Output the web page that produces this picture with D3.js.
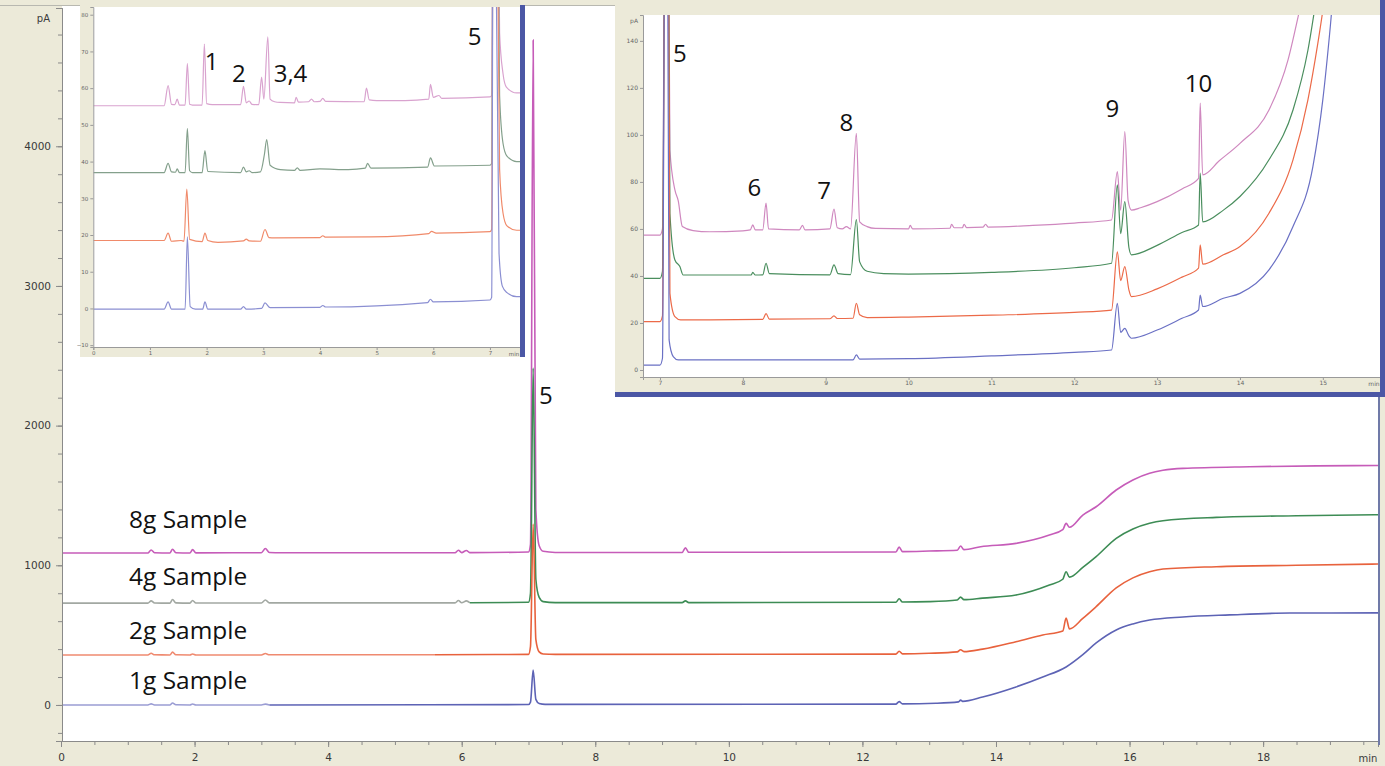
<!DOCTYPE html>
<html><head><meta charset="utf-8">
<script src="https://cdn.jsdelivr.net/npm/d3@7"></script>
<style>body{margin:0;background:#ecead9}svg{display:block}</style>
</head><body><svg id="c" width="1385" height="766"></svg>
<script>
// ---------------- DATA ----------------
const sampleNames = ["8g Sample", "4g Sample", "2g Sample", "1g Sample"];
const sampleLabelPos = [[1.02, 1267], [1.02, 857], [1.02, 472], [1.02, 115]]; // [min, pA]

const mainYTicks = [0, 1000, 2000, 3000, 4000];
const mainYTickLabels = ["0", "1000", "2000", "3000", "4000"];
const mainXTicks = [0, 2, 4, 6, 8, 10, 12, 14, 16, 18];
const mainXTickLabels = ["0", "2", "4", "6", "8", "10", "12", "14", "16", "18"];

// main chromatograms [min, pA]
const main8g = [[0,1088],[1.3,1088],[1.35,1110],[1.4,1090],[1.63,1088],[1.67,1115],[1.72,1090],[1.93,1088],[1.97,1112],[2.02,1089],[3.0,1090],[3.06,1120],[3.12,1092],[3.3,1090],[5.9,1090],[5.95,1108],[6.0,1091],[6.07,1106],[6.12,1091],[7.0,1095],[7.03,1150],[7.07,4760],[7.11,1400],[7.16,1140],[7.22,1100],[7.4,1092],[9.3,1092],[9.35,1125],[9.4,1093],[12.5,1095],[12.55,1130],[12.6,1098],[13.0,1102],[13.42,1108],[13.47,1138],[13.52,1112],[13.77,1133],[14.3,1157],[14.8,1217],[15.0,1255],[15.05,1300],[15.1,1272],[15.3,1360],[15.5,1419],[15.8,1539],[16.05,1611],[16.3,1659],[16.5,1680],[16.8,1694],[17.8,1706],[18.8,1712],[19.72,1714]];
const main4g = [[0,729],[1.3,729],[1.35,745],[1.4,730],[1.63,729],[1.67,755],[1.72,731],[1.93,729],[1.97,748],[2.02,730],[3.0,730],[3.06,752],[3.12,731],[5.9,731],[5.95,748],[6.0,732],[6.07,745],[6.12,732],[7.0,735],[7.03,800],[7.07,2412],[7.11,900],[7.16,770],[7.22,740],[7.4,733],[9.3,733],[9.35,745],[9.4,733],[12.5,735],[12.55,760],[12.6,737],[13.0,740],[13.42,752],[13.47,772],[13.52,754],[13.8,765],[14.3,787],[14.8,859],[15.0,900],[15.05,954],[15.1,915],[15.3,985],[15.5,1062],[15.8,1193],[16.05,1260],[16.3,1301],[16.5,1319],[17.3,1343],[18.5,1355],[19.72,1362]];
const main2g = [[0,358],[1.3,358],[1.35,370],[1.4,359],[1.63,358],[1.67,378],[1.72,359],[1.93,358],[1.97,365],[2.02,358],[3.0,358],[3.06,368],[3.12,359],[5.6,360],[7.0,362],[7.03,420],[7.07,1296],[7.11,470],[7.16,380],[7.22,365],[7.4,362],[12.5,364],[12.55,385],[12.6,366],[13.0,370],[13.42,380],[13.47,395],[13.52,382],[13.8,400],[14.3,453],[14.7,501],[15.0,530],[15.05,622],[15.1,545],[15.3,620],[15.5,704],[15.8,838],[16.05,910],[16.3,954],[16.5,973],[17.3,990],[18.5,1000],[19.72,1009]];
const main1g = [[0,0],[1.3,0],[1.35,8],[1.4,0],[1.63,0],[1.67,14],[1.72,1],[1.93,0],[1.97,7],[2.02,0],[3.0,0],[3.06,6],[3.12,0],[7.0,3],[7.03,20],[7.07,250],[7.11,40],[7.16,10],[7.25,4],[12.5,6],[12.55,24],[12.6,8],[13.1,12],[13.44,22],[13.47,35],[13.5,26],[13.8,57],[14.3,129],[14.7,200],[15.05,272],[15.3,360],[15.5,444],[15.8,537],[16.05,580],[16.3,608],[16.8,630],[17.5,645],[18.4,658],[19.72,659]];
const mainSplit = [19.72, 6.4, 5.6, 3.9]; // colour change time of each trace

// inset 1 (0 - 7.5 min) [min, pA]
const inset1YTicks = [-10, 0, 10, 20, 30, 40, 50, 60, 70, 80];
const inset1XTicks = [0, 1, 2, 3, 4, 5, 6, 7];
const ins1_8g = [[0,55.2],[1.25,55.2],[1.32,60.7],[1.38,55.6],[1.44,55.5],[1.48,57],[1.52,55.4],[1.62,55.4],[1.66,66.7],[1.7,55.6],[1.75,55.4],[1.92,55.4],[1.96,72],[2.0,55.8],[2.1,55.5],[2.6,55.5],[2.65,60.5],[2.7,56],[2.75,56.5],[2.8,55.6],[2.92,55.5],[2.97,63],[3.01,57],[3.08,74],[3.12,57],[3.2,56.3],[3.3,56.1],[3.55,56],[3.58,57.5],[3.62,56.2],[3.8,56.3],[3.85,57],[3.9,56.3],[4.0,56.4],[4.05,57.2],[4.1,56.4],[4.78,56.3],[4.82,60],[4.87,56.8],[5.0,56.6],[5.5,56.6],[5.92,57],[5.95,61],[6.0,57.5],[6.1,58],[6.15,57.2],[7.0,57.6],[7.03,58],[7.07,200],[7.12,160],[7.17,75],[7.23,64],[7.29,60.3],[7.47,58.7],[7.53,58.7]];
const ins1_4g = [[0,37],[1.25,37],[1.32,39.5],[1.38,37.2],[1.45,37.1],[1.48,38],[1.52,37],[1.62,37],[1.66,49],[1.7,37.5],[1.75,37],[1.92,37],[1.97,43],[2.02,37.3],[2.6,37],[2.65,38.5],[2.7,37.2],[2.75,37.5],[2.8,37],[2.95,37.2],[3.02,42],[3.06,46],[3.12,39],[3.3,37.8],[3.55,37.6],[3.6,38.3],[3.65,37.6],[4.0,38],[4.5,37.8],[4.8,38.2],[4.84,39.5],[4.9,38.2],[5.9,38.5],[5.95,41],[6.02,38.8],[7.0,39],[7.03,39.5],[7.07,200],[7.12,150],[7.17,58],[7.23,45],[7.3,41.5],[7.47,40],[7.53,40]];
const ins1_2g = [[0,18.5],[1.25,18.5],[1.32,20.5],[1.38,18.3],[1.55,18.5],[1.6,18.3],[1.65,32.5],[1.7,18.8],[1.92,18.2],[1.97,20.5],[2.02,18.5],[2.2,18.0],[2.65,18.4],[2.7,18.9],[2.75,18.4],[2.95,18.3],[3.03,21.5],[3.1,19.3],[3.2,19.2],[4.0,19.3],[4.05,19.8],[4.1,19.4],[4.9,19.5],[5.92,20.4],[5.97,21],[6.05,20.5],[7.0,20.9],[7.03,21.5],[7.07,200],[7.12,130],[7.17,38],[7.23,26],[7.3,22.5],[7.47,21.3],[7.53,21.3]];
const ins1_1g = [[0,-0.2],[1.25,-0.2],[1.32,1.8],[1.38,-0.2],[1.62,-0.2],[1.66,19.5],[1.71,0.5],[1.8,-0.2],[1.93,-0.2],[1.97,1.8],[2.02,-0.2],[2.6,-0.2],[2.65,0.5],[2.7,-0.2],[2.97,0],[3.03,1.5],[3.12,0.2],[4.0,0.3],[4.05,0.8],[4.1,0.4],[5.9,1.6],[5.95,2.5],[6.0,1.8],[7.0,2.3],[7.03,3],[7.07,200],[7.11,90],[7.16,15],[7.22,6],[7.3,4.3],[7.47,3.2],[7.53,3.2]];

// inset 2 (7 - 15.5 min) [min, pA]
const inset2YTicks = [0, 20, 40, 60, 80, 100, 120, 140];
const inset2XTicks = [7, 8, 9, 10, 11, 12, 13, 14, 15];
const ins2_8g = [[6.79,57.4],[7.0,57.4],[7.03,60],[7.06,200],[7.1,200],[7.12,93.6],[7.18,76.6],[7.22,72],[7.27,61],[7.4,59.3],[7.6,58.8],[8.0,59.2],[8.09,59.6],[8.12,61.7],[8.15,59.6],[8.24,59.6],[8.28,71],[8.31,60],[8.68,59.6],[8.72,61.5],[8.75,59.6],[9.05,60],[9.1,68.4],[9.14,60.5],[9.2,60],[9.25,61],[9.3,60],[9.37,100.7],[9.41,63],[9.5,61],[9.6,60.2],[10.0,60],[10.02,61.5],[10.05,60],[10.5,60.3],[10.52,62],[10.55,60.5],[10.65,60.5],[10.67,62],[10.7,60.6],[10.9,60.8],[10.93,62],[10.96,60.8],[11.5,61.5],[12.0,62.5],[12.45,63.8],[12.52,84.4],[12.56,68],[12.61,101.4],[12.65,72],[12.69,68],[12.8,69],[13.0,71.6],[13.3,77],[13.5,81.5],[13.52,113.5],[13.55,83],[13.75,89],[14.0,96.4],[14.35,110.6],[14.58,131.9],[14.7,150],[14.85,175]];
const ins2_4g = [[6.79,39],[7.0,39],[7.03,42],[7.06,200],[7.1,200],[7.12,66.7],[7.18,46.8],[7.24,44],[7.28,40.4],[7.5,40.4],[8.1,40.4],[8.12,41.5],[8.15,40.4],[8.24,40.5],[8.28,45.4],[8.32,41],[9.05,40.5],[9.1,44.7],[9.15,41],[9.3,40.6],[9.37,64],[9.41,46],[9.5,42],[9.7,41],[10,40.8],[11,41.5],[12,43.5],[12.45,45.4],[12.52,78.7],[12.56,58],[12.61,71.6],[12.66,52],[12.69,49],[13.0,53],[13.3,58.5],[13.5,61.7],[13.52,83.7],[13.55,63],[13.8,68],[14.0,73.8],[14.35,89.4],[14.64,110.6],[14.82,136],[14.95,165]];
const ins2_2g = [[6.79,20.6],[7.0,20.6],[7.03,23],[7.06,200],[7.1,200],[7.12,32.6],[7.18,22.7],[7.25,21.3],[8.24,21.5],[8.28,24],[8.32,21.6],[9.05,21.8],[9.1,23],[9.14,21.9],[9.33,22],[9.37,28.4],[9.41,23.5],[9.5,22.3],[10,22.5],[11,23.3],[12,24.5],[12.45,25.5],[12.52,50.3],[12.56,38],[12.61,44],[12.66,34],[12.69,31.2],[13.0,34.5],[13.3,39.5],[13.5,43.3],[13.52,53.2],[13.55,45],[13.8,49],[14.0,52.5],[14.35,66.7],[14.64,89.4],[14.82,114.9],[14.94,139],[15.05,165]];
const ins2_1g = [[6.79,2.1],[7.0,2.1],[7.03,5],[7.06,200],[7.09,200],[7.11,12.8],[7.16,5.7],[7.22,4.3],[9.33,4.3],[9.37,6.4],[9.41,4.6],[10,4.8],[11,6],[12,7.5],[12.45,8.5],[12.52,28.4],[12.56,16],[12.61,17.7],[12.66,14.5],[12.69,13.5],[13.0,17],[13.3,22],[13.5,25.5],[13.52,31.9],[13.55,27],[13.8,30.5],[14.0,32.6],[14.35,42.6],[14.64,61],[14.88,86.5],[15.0,115],[15.09,146],[15.15,170]];

// peak labels [text, min, pA]
const inset1Peaks = [["1", 2.09, 65], ["2", 2.57, 61.7], ["3,4", 3.48, 61.7], ["5", 6.73, 71.7]];
const inset2Peaks = [["5", 7.24, 131], ["6", 8.14, 74], ["7", 8.98, 72.8], ["8", 9.25, 101.7], ["9", 12.46, 107.7], ["10", 13.5, 118.3]];
const mainPeaks = [["5", 7.26, 2155]];

// ---------------- STYLE ----------------
const mainColorsA = ["#c65cb9", "#a2a8a2", "#ef8a70", "#9b9dd4"];
const mainColorsB = ["#c65cb9", "#3d8c55", "#e8623d", "#5d63b5"];
const ins1Colors = ["#d9a3cf", "#84a08c", "#f08a6a", "#8b8fd2"];
const ins2Colors = ["#cf88bf", "#4a8e5e", "#ec6a48", "#6a70c4"];
const beige = "#ecead9", navy = "#4b57a5";

const svg = d3.select("#c");
svg.append("rect").attr("width", 1385).attr("height", 766).attr("fill", beige);

// ---------------- MAIN ----------------
const x = d3.scaleLinear().domain([0, 19.72]).range([61, 1378]);
const y = d3.scaleLinear().domain([-258, 4990]).range([741, 8]);
svg.append("rect").attr("x", 62).attr("y", 6).attr("width", 1316).attr("height", 735).attr("fill", "#fff");
svg.append("line").attr("x1", 0).attr("x2", 1385).attr("y1", 5.5).attr("y2", 5.5).attr("stroke", "#b8b8b0");
svg.append("defs").append("clipPath").attr("id", "cm").append("rect")
  .attr("x", 62).attr("y", 6).attr("width", 1316).attr("height", 735);

const mainLine = d3.line().x(d => x(d[0])).y(d => y(d[1])).curve(d3.curveMonotoneX);
const gMain = svg.append("g").attr("clip-path", "url(#cm)");
[main8g, main4g, main2g, main1g].forEach((s, i) => {
  const a = s.filter(d => d[0] <= mainSplit[i]);
  const b = s.filter(d => d[0] >= mainSplit[i]);
  const last = a[a.length - 1];
  if (b.length && b[0][0] !== last[0]) b.unshift(last);
  gMain.append("path").attr("d", mainLine(a)).attr("fill", "none").attr("stroke", mainColorsA[i]).attr("stroke-width", 1.6);
  if (b.length > 1) gMain.append("path").attr("d", mainLine(b)).attr("fill", "none").attr("stroke", mainColorsB[i]).attr("stroke-width", 1.6);
});

// main axes
const yMinor = d3.range(-200, 4900, 200);
svg.append("g").attr("transform", "translate(62,0)")
  .call(d3.axisLeft(y).tickValues(yMinor).tickSize(4).tickFormat(""))
  .call(g => g.selectAll("line,path").attr("stroke", "#8a8a8a"));
svg.append("g").attr("transform", "translate(62,0)")
  .call(d3.axisLeft(y).tickValues(mainYTicks).tickSize(6).tickFormat((d, i) => mainYTickLabels[i]))
  .call(g => g.select(".domain").attr("stroke", "#8a8a8a"))
  .call(g => g.selectAll("line").attr("stroke", "#8a8a8a"))
  .call(g => g.selectAll("text").attr("fill", "#3a3a3a").attr("font-size", 10.5).attr("font-family", "DejaVu Sans").attr("dx", -2));
svg.append("text").attr("x", 50).attr("y", 22).attr("text-anchor", "end").attr("font-size", 10).attr("font-family", "DejaVu Sans").attr("fill", "#3a3a3a").text("pA");

svg.append("g").attr("transform", "translate(0,741)")
  .call(d3.axisBottom(x).tickValues(d3.range(0, 19.6, 0.5)).tickSize(4).tickFormat(""))
  .call(g => g.selectAll("line,path").attr("stroke", "#8a8a8a"));
svg.append("g").attr("transform", "translate(0,741)")
  .call(d3.axisBottom(x).tickValues(mainXTicks).tickSize(6).tickFormat((d, i) => mainXTickLabels[i]))
  .call(g => g.select(".domain").attr("stroke", "#8a8a8a"))
  .call(g => g.selectAll("line").attr("stroke", "#8a8a8a"))
  .call(g => g.selectAll("text").attr("fill", "#3a3a3a").attr("font-size", 10.5).attr("font-family", "DejaVu Sans").attr("dy", "1.0em"));
svg.append("text").attr("x", 1368).attr("y", 762).attr("text-anchor", "middle").attr("font-size", 10).attr("font-family", "DejaVu Sans").attr("fill", "#3a3a3a").text("min");
svg.append("line").attr("x1", 1379).attr("x2", 1379).attr("y1", 396).attr("y2", 745).attr("stroke", "#707aa8").attr("stroke-width", 2);

const labelFont = "'Open Sans', 'DejaVu Sans', sans-serif";
sampleNames.forEach((n, i) => {
  svg.append("text").attr("x", x(sampleLabelPos[i][0])).attr("y", y(sampleLabelPos[i][1]))
    .attr("font-size", 23).attr("font-family", labelFont).attr("fill", "#111")
    .attr("textLength", 118).attr("lengthAdjust", "spacingAndGlyphs").text(n);
});
mainPeaks.forEach(p => svg.append("text").attr("x", x(p[1])).attr("y", y(p[2])).attr("text-anchor", "middle")
  .attr("font-size", 24).attr("font-family", labelFont).attr("fill", "#111").text(p[0]));

// ---------------- INSET helper ----------------
function inset(cfg) {
  const g = svg.append("g");
  g.append("rect").attr("x", cfg.box[0]).attr("y", cfg.box[1]).attr("width", cfg.box[2]).attr("height", cfg.box[3]).attr("fill", beige);
  const [px0, px1, py0, py1] = cfg.plot;
  g.append("rect").attr("x", px0).attr("y", py0).attr("width", px1 - px0).attr("height", py1 - py0).attr("fill", "#fff");
  const xs = d3.scaleLinear().domain(cfg.xd).range([px0, px1]);
  const ys = d3.scaleLinear().domain(cfg.yd).range([py1, py0]);
  svg.select("defs").append("clipPath").attr("id", cfg.id).append("rect")
    .attr("x", px0).attr("y", py0).attr("width", px1 - px0).attr("height", py1 - py0);
  const ln = d3.line().x(d => xs(d[0])).y(d => ys(d[1])).curve(d3.curveMonotoneX);
  const gl = g.append("g").attr("clip-path", `url(#${cfg.id})`);
  cfg.series.forEach((s, i) => gl.append("path").attr("d", ln(s)).attr("fill", "none")
    .attr("stroke", cfg.colors[i]).attr("stroke-width", 1.2));
  // axes
  g.append("g").attr("transform", `translate(${px0},0)`)
    .call(d3.axisLeft(ys).tickValues(cfg.yt).tickSize(3).tickPadding(2))
    .call(a => a.selectAll("line,path").attr("stroke", "#9a9a9a"))
    .call(a => a.selectAll("text").attr("font-size", cfg.fs).attr("fill", "#666").attr("font-family", "DejaVu Sans"));
  g.append("g").attr("transform", `translate(0,${py1})`)
    .call(d3.axisBottom(xs).tickValues(cfg.xt).tickSize(3).tickPadding(1))
    .call(a => a.selectAll("line,path").attr("stroke", "#9a9a9a"))
    .call(a => a.selectAll("text").attr("font-size", cfg.fs).attr("fill", "#666").attr("font-family", "DejaVu Sans"));
  g.append("text").attr("x", px1 - 6).attr("y", py1 + 3 + cfg.fs).attr("text-anchor", "middle")
    .attr("font-size", cfg.fs).attr("fill", "#666").attr("font-family", "DejaVu Sans").text("min");
  if (cfg.pA) g.append("text").attr("x", px0 - 5).attr("y", py0 + 8).attr("text-anchor", "end")
    .attr("font-size", cfg.fs).attr("fill", "#666").attr("font-family", "DejaVu Sans").text("pA");
  cfg.bars.forEach(b => g.append("rect").attr("x", b[0]).attr("y", b[1]).attr("width", b[2]).attr("height", b[3]).attr("fill", navy));
  cfg.peaks.forEach(p => g.append("text").attr("x", xs(p[1])).attr("y", ys(p[2])).attr("text-anchor", "middle")
    .attr("font-size", 24).attr("font-family", labelFont).attr("fill", "#111").text(p[0]));
}

inset({
  id: "c1", box: [80, 5, 445, 352], plot: [93.3, 520, 7, 347],
  xd: [0, 7.53], yd: [-10.5, 82.1], xt: inset1XTicks, yt: inset1YTicks, fs: 5.5, pA: false,
  series: [ins1_8g, ins1_4g, ins1_2g, ins1_1g], colors: ins1Colors,
  bars: [[520, 5, 5, 352]], peaks: inset1Peaks
});
inset({
  id: "c2", box: [615, 0, 770, 397], plot: [643, 1380, 15, 377],
  xd: [6.795, 15.69], yd: [-2.98, 151], xt: inset2XTicks, yt: inset2YTicks, fs: 6, pA: true,
  series: [ins2_8g, ins2_4g, ins2_2g, ins2_1g], colors: ins2Colors,
  bars: [[615, 392, 770, 5], [1380, 0, 5, 397]], peaks: inset2Peaks
});
</script></body></html>
